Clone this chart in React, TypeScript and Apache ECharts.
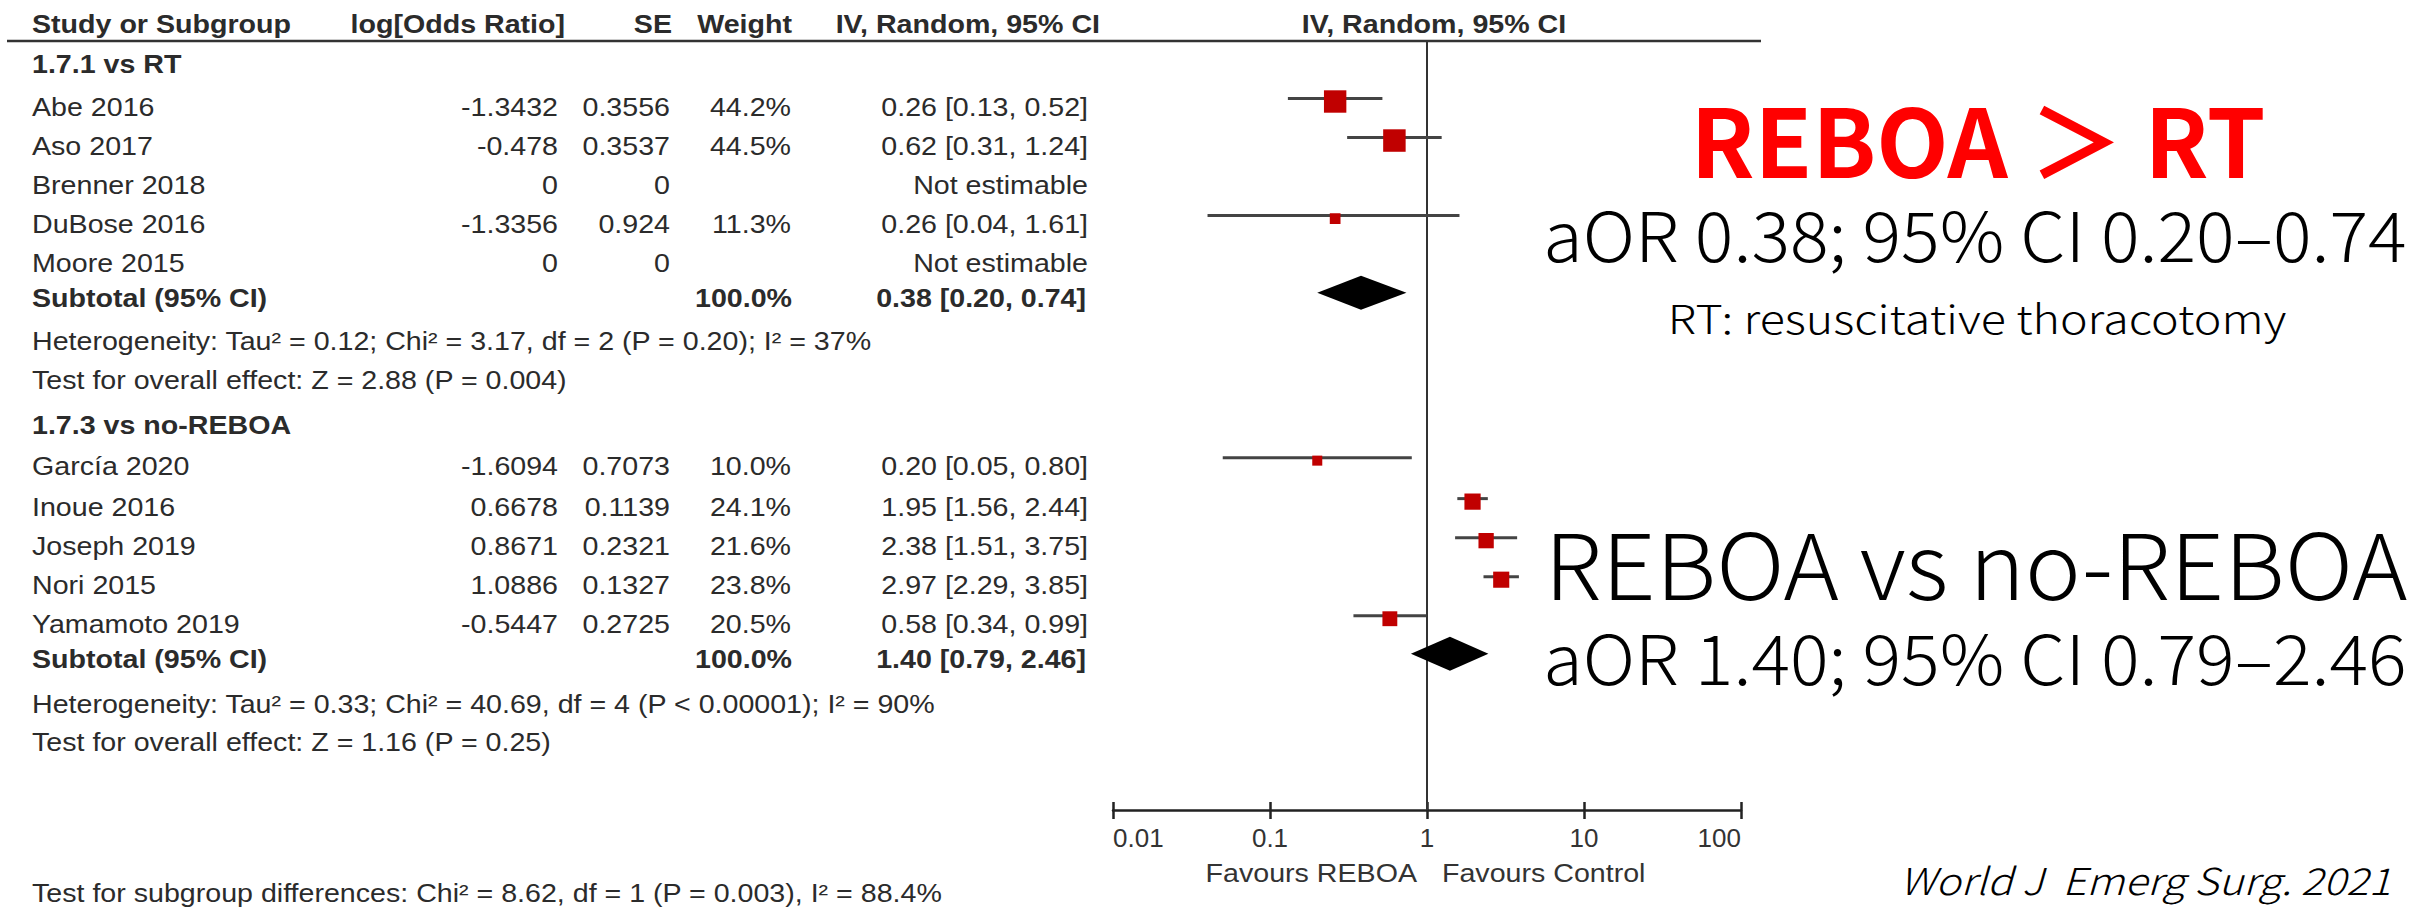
import React, { useEffect, useRef } from 'react';
import * as echarts from 'echarts';

// ---------- data ----------
const studies = ['Abe 2016', 'Aso 2017', 'Brenner 2018', 'DuBose 2016', 'Moore 2015', 'García 2020', 'Inoue 2016', 'Joseph 2019', 'Nori 2015', 'Yamamoto 2019'];
const logOR = ['-1.3432', '-0.478', '0', '-1.3356', '0', '-1.6094', '0.6678', '0.8671', '1.0886', '-0.5447'];
const seVals = ['0.3556', '0.3537', '0', '0.924', '0', '0.7073', '0.1139', '0.2321', '0.1327', '0.2725'];
const weights: (number | null)[] = [44.2, 44.5, null, 11.3, null, 10.0, 24.1, 21.6, 23.8, 20.5];
const oddsRatio: (number | null)[] = [0.26, 0.62, null, 0.26, null, 0.2, 1.95, 2.38, 2.97, 0.58];
const ciLow: (number | null)[] = [0.13, 0.31, null, 0.04, null, 0.05, 1.56, 1.51, 2.29, 0.34];
const ciHigh: (number | null)[] = [0.52, 1.24, null, 1.61, null, 0.8, 2.44, 3.75, 3.85, 0.99];
const studyRows = [1, 2, 3, 4, 5, 10.2, 11.25, 12.25, 13.25, 14.25];

const subgroupTitles = ['1.7.1 vs RT', '1.7.3 vs no-REBOA'];
const subgroupTitleRows = [-0.1, 9.15];
const subtotalOR = [0.38, 1.4];
const subtotalLow = [0.2, 0.79];
const subtotalHigh = [0.74, 2.46];
const subtotalRows = [5.9, 15.15];
const heterogeneity = [
  'Heterogeneity: Tau² = 0.12; Chi² = 3.17, df = 2 (P = 0.20); I² = 37%',
  'Heterogeneity: Tau² = 0.33; Chi² = 40.69, df = 4 (P < 0.00001); I² = 90%',
];
const heterogeneityRows = [7.0, 16.3];
const overallEffect = ['Test for overall effect: Z = 2.88 (P = 0.004)', 'Test for overall effect: Z = 1.16 (P = 0.25)'];
const overallRows = [8.0, 17.27];
const subgroupDiffText = 'Test for subgroup differences: Chi² = 8.62, df = 1 (P = 0.003), I² = 88.4%';
const subgroupDiffRow = 21.15;

const headers = ['Study or Subgroup', 'log[Odds Ratio]', 'SE', 'Weight', 'IV, Random, 95% CI', 'IV, Random, 95% CI'];
const axisMin = 0.01;
const axisMax = 100;
const favours = ['Favours REBOA', 'Favours Control'];

const annot1 = ['REBOA ＞ RT', 'aOR 0.38; 95% CI 0.20–0.74', 'RT: resuscitative thoracotomy'];
const annot2 = ['REBOA vs no-REBOA', 'aOR 1.40; 95% CI 0.79–2.46'];
const citation = 'World J  Emerg Surg. 2021';

// ---------- layout ----------
const GRID_LEFT = 1113;
const GRID_W = 628;
const GRID_TOP = 41;
const GRID_H = 769;
const Y_MIN = -0.55;
const Y_MAX = 19.15;
const rowPx = (v: number) => GRID_TOP + ((v - Y_MIN) / (Y_MAX - Y_MIN)) * GRID_H;

const TFONT = "'Liberation Sans', Arial, Helvetica, sans-serif";
const JFONT = "'Noto Sans CJK JP', 'Noto Sans', sans-serif";
const TCOLOR = '#2b2b2b';

function txt(x: number, y: number, text: string, align: string, bold = false, size = 26, color = TCOLOR, sx = 1.1): any {
  return {
    type: 'text',
    x,
    y,
    scaleX: sx,
    silent: true,
    style: {
      text,
      x: 0,
      y: 0,
      fill: color,
      fontSize: size,
      fontFamily: TFONT,
      fontWeight: bold ? 'bold' : 'normal',
      align,
      verticalAlign: 'middle',
      textAlign: align,
      textVerticalAlign: 'middle',
    },
  };
}

function jtxt(x: number, y: number, text: string, size: number, opts: any = {}): any {
  return {
    type: 'text',
    x,
    y,
    scaleX: opts.sx ?? 1,
    silent: true,
    style: {
      text,
      x: 0,
      y: 0,
      fill: opts.color ?? '#000',
      fontSize: size,
      fontFamily: JFONT,
      fontWeight: opts.weight ?? 300,
      fontStyle: opts.italic ? 'italic' : 'normal',
      align: opts.align ?? 'center',
      verticalAlign: 'middle',
      textAlign: opts.align ?? 'center',
      textVerticalAlign: 'middle',
    },
  };
}

export default function App() {
  const ref = useRef<HTMLDivElement>(null);

  useEffect(() => {
    document.body.style.margin = '0';
    const chart = echarts.init(ref.current!, null, { renderer: 'svg' });

    const ciData: number[][] = [];
    studies.forEach((_, i) => {
      if (oddsRatio[i] != null) {
        ciData.push([ciLow[i] as number, ciHigh[i] as number, oddsRatio[i] as number, studyRows[i], weights[i] as number]);
      }
    });
    const diamondData = subtotalOR.map((v, i) => [subtotalLow[i], subtotalHigh[i], v, subtotalRows[i]]);

    const g: any[] = [];
    // header
    const hy = 24;
    g.push(txt(32, hy, headers[0], 'left', true));
    g.push(txt(565, hy, headers[1], 'right', true));
    g.push(txt(672, hy, headers[2], 'right', true));
    g.push(txt(792, hy, headers[3], 'right', true));
    g.push(txt(1100, hy, headers[4], 'right', true));
    g.push(txt(1434, hy, headers[5], 'center', true));
    g.push({
      type: 'line',
      silent: true,
      shape: { x1: 7, y1: 41, x2: 1761, y2: 41 },
      style: { stroke: '#333', lineWidth: 2.5 },
    });

    subgroupTitles.forEach((t, i) => g.push(txt(32, rowPx(subgroupTitleRows[i]) + 5, t, 'left', true)));
    studies.forEach((s, i) => {
      const y = rowPx(studyRows[i]) + 5;
      g.push(txt(32, y, s, 'left'));
      g.push(txt(558, y, logOR[i], 'right'));
      g.push(txt(670, y, seVals[i], 'right'));
      if (weights[i] != null) g.push(txt(791, y, (weights[i] as number).toFixed(1) + '%', 'right'));
      const ci =
        oddsRatio[i] != null
          ? `${(oddsRatio[i] as number).toFixed(2)} [${(ciLow[i] as number).toFixed(2)}, ${(ciHigh[i] as number).toFixed(2)}]`
          : 'Not estimable';
      g.push(txt(1088, y, ci, 'right'));
    });
    subtotalOR.forEach((v, i) => {
      const y = rowPx(subtotalRows[i]) + 5;
      g.push(txt(32, y, 'Subtotal (95% CI)', 'left', true));
      g.push(txt(792, y, '100.0%', 'right', true));
      g.push(txt(1086, y, `${v.toFixed(2)} [${subtotalLow[i].toFixed(2)}, ${subtotalHigh[i].toFixed(2)}]`, 'right', true));
    });
    heterogeneity.forEach((t, i) => g.push(txt(32, rowPx(heterogeneityRows[i]) + 5, t, 'left')));
    overallEffect.forEach((t, i) => g.push(txt(32, rowPx(overallRows[i]) + 5, t, 'left')));
    g.push(txt(32, rowPx(subgroupDiffRow) + 5, subgroupDiffText, 'left'));

    // favours
    g.push(txt(1417, 873, favours[0], 'right', false, 26, '#333'));
    g.push(txt(1442, 873, favours[1], 'left', false, 26, '#333'));

    // annotations
    g.push(jtxt(1978, 137, annot1[0], 94, { color: '#ff0000', weight: 'bold' }));
    g.push(jtxt(1975, 232, annot1[1], 69, { sx: 1.045 }));
    g.push(jtxt(1977, 317, annot1[2], 40, { sx: 1.165 }));
    g.push(jtxt(1976, 561, annot2[0], 91, { sx: 1.035 }));
    g.push(jtxt(1975, 655, annot2[1], 69, { sx: 1.045 }));
    g.push(jtxt(2391, 879, citation, 37, { align: 'right', italic: true, sx: 1.14 }));

    const option: any = {
      animation: false,
      backgroundColor: '#ffffff',
      grid: { left: GRID_LEFT, top: GRID_TOP, width: GRID_W, height: GRID_H, containLabel: false },
      xAxis: [
        {
          type: 'log',
          logBase: 10,
          min: axisMin,
          max: axisMax,
          position: 'bottom',
          axisLine: { show: true, onZero: false, lineStyle: { color: '#222', width: 2.5 } },
          axisTick: { show: true, length: 9, lineStyle: { color: '#222', width: 2.5 } },
          axisLabel: {
            show: true,
            fontSize: 26,
            color: '#333',
            fontFamily: TFONT,
            margin: 15,
            alignMinLabel: 'left',
            alignMaxLabel: 'right',
            formatter: (v: number) => String(v),
          },
          splitLine: { show: false },
          minorTick: { show: false },
        },
        {
          type: 'log',
          logBase: 10,
          min: axisMin,
          max: axisMax,
          position: 'top',
          offset: -GRID_H,
          axisLine: { show: false, onZero: false },
          axisTick: { show: true, inside: false, length: 8, lineStyle: { color: '#222', width: 2.5 } },
          axisLabel: { show: false },
          splitLine: { show: false },
        },
      ],
      yAxis: { type: 'value', inverse: true, min: Y_MIN, max: Y_MAX, show: false },
      series: [
        {
          type: 'line',
          data: [
            [1, Y_MIN],
            [1, Y_MAX],
          ],
          symbol: 'none',
          lineStyle: { color: '#333', width: 2 },
          silent: true,
          z: 1,
        },
        {
          type: 'custom',
          clip: false,
          silent: true,
          encode: { x: [0, 1, 2], y: 3 },
          data: ciData,
          z: 3,
          renderItem: (params: any, api: any) => {
            const row = api.value(3);
            const lo = api.coord([api.value(0), row]);
            const hi = api.coord([api.value(1), row]);
            const c = api.coord([api.value(2), row]);
            const side = 3.55 * Math.sqrt(api.value(4)) - 1.2;
            return {
              type: 'group',
              children: [
                {
                  type: 'line',
                  shape: { x1: lo[0], y1: lo[1] - 3, x2: hi[0], y2: hi[1] - 3 },
                  style: { stroke: '#444', lineWidth: 3 },
                },
                {
                  type: 'rect',
                  shape: { x: c[0] - side / 2, y: c[1] - side / 2, width: side, height: side },
                  style: { fill: '#c00000' },
                },
              ],
            };
          },
        },
        {
          type: 'custom',
          clip: false,
          silent: true,
          encode: { x: [0, 1, 2], y: 3 },
          data: diamondData,
          z: 3,
          renderItem: (params: any, api: any) => {
            const row = api.value(3);
            const lo = api.coord([api.value(0), row]);
            const hi = api.coord([api.value(1), row]);
            const c = api.coord([api.value(2), row]);
            const h = 17;
            return {
              type: 'polygon',
              shape: { points: [[lo[0], c[1]], [c[0], c[1] - h], [hi[0], c[1]], [c[0], c[1] + h]] },
              style: { fill: '#000' },
            };
          },
        },
      ],
      graphic: { elements: g },
    };

    chart.setOption(option);
    return () => chart.dispose();
  }, []);

  return <div ref={ref} style={{ position: 'fixed', left: 0, top: 0, width: 2420, height: 909, background: '#fff' }} />;
}
